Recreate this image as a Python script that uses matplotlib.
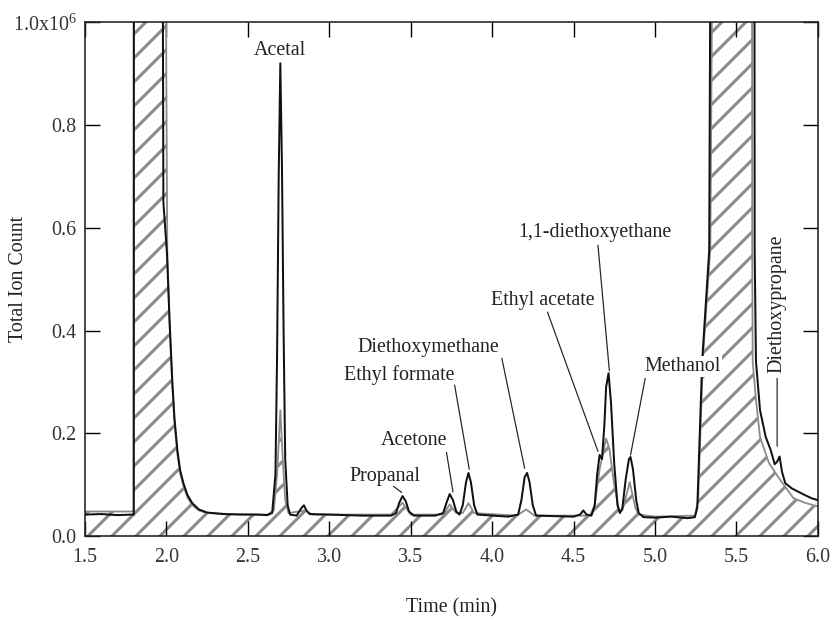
import matplotlib
matplotlib.use('Agg')
import matplotlib.pyplot as plt

plt.rcParams['font.family'] = ['Liberation Serif', 'DejaVu Serif']
plt.rcParams['mathtext.fontset'] = 'stix'
plt.rcParams['hatch.linewidth'] = 1.5
plt.rcParams['hatch.color'] = '#8a8a8a'

# black trace (time in min, intensity in 1e6 counts)
black_t = [1.50, 1.60, 1.70, 1.79, 1.800, 1.801, 1.975, 1.982, 2.004, 2.02, 2.037, 2.05,
           2.068, 2.085, 2.105, 2.13, 2.16, 2.20, 2.25, 2.35, 2.45, 2.55, 2.62, 2.65,
           2.67, 2.68, 2.69, 2.70, 2.71, 2.72, 2.73, 2.745, 2.76, 2.80, 2.83, 2.845,
           2.86, 2.88, 3.00, 3.20, 3.38, 3.41, 3.43, 3.45, 3.47, 3.49, 3.52, 3.65,
           3.70, 3.72, 3.74, 3.76, 3.78, 3.80, 3.82, 3.84, 3.855, 3.87, 3.89, 3.91,
           4.10, 4.16, 4.18, 4.20, 4.215, 4.23, 4.25, 4.27, 4.50, 4.54, 4.56, 4.58,
           4.61, 4.63, 4.645, 4.66, 4.675, 4.69, 4.70, 4.715, 4.73, 4.75, 4.77, 4.785,
           4.80, 4.82, 4.84, 4.85, 4.865, 4.885, 4.90, 4.93, 5.00, 5.10, 5.20, 5.245,
           5.26, 5.29, 5.333, 5.345, 5.61, 5.612, 5.62, 5.645, 5.68, 5.71, 5.735, 5.75,
           5.765, 5.78, 5.80, 5.84, 5.87, 5.92, 5.96, 6.00]
black_v = [0.042, 0.043, 0.041, 0.042, 0.042, 1.5, 1.5, 0.65, 0.55, 0.42, 0.30, 0.23,
           0.167, 0.128, 0.103, 0.080, 0.064, 0.052, 0.046, 0.043, 0.042, 0.042, 0.041, 0.045,
           0.12, 0.35, 0.70, 0.92, 0.72, 0.40, 0.15, 0.06, 0.042, 0.040, 0.055, 0.060,
           0.050, 0.043, 0.042, 0.040, 0.040, 0.045, 0.065, 0.078, 0.068, 0.048, 0.040, 0.040,
           0.045, 0.065, 0.082, 0.070, 0.048, 0.042, 0.060, 0.105, 0.123, 0.105, 0.060, 0.042,
           0.038, 0.042, 0.070, 0.115, 0.123, 0.105, 0.060, 0.040, 0.038, 0.042, 0.050, 0.042,
           0.040, 0.060, 0.120, 0.158, 0.150, 0.220, 0.290, 0.317, 0.260, 0.140, 0.060, 0.045,
           0.055, 0.110, 0.150, 0.154, 0.130, 0.070, 0.045, 0.037, 0.036, 0.038, 0.035, 0.037,
           0.056, 0.342, 0.556, 1.5, 1.5, 0.556, 0.340, 0.245, 0.193, 0.168, 0.140, 0.145,
           0.155, 0.125, 0.103, 0.093, 0.088, 0.080, 0.074, 0.070]

# grey trace
gray_t = [1.50, 1.79, 1.800, 1.801, 1.995, 2.000, 2.006, 2.02, 2.037, 2.05, 2.068, 2.085,
          2.105, 2.13, 2.16, 2.20, 2.25, 2.40, 2.62, 2.66, 2.68, 2.70, 2.715, 2.73,
          2.75, 2.85, 2.90, 3.38, 3.45, 3.50, 3.70, 3.74, 3.78, 3.82, 3.855, 3.89,
          4.15, 4.21, 4.26, 4.60, 4.63, 4.66, 4.70, 4.72, 4.75, 4.78, 4.80, 4.845,
          4.88, 4.90, 5.00, 5.245, 5.265, 5.295, 5.34, 5.36, 5.595, 5.597, 5.60, 5.62,
          5.645, 5.70, 5.77, 5.85, 5.92, 6.00]
gray_v = [0.048, 0.048, 0.050, 1.5, 1.5, 0.90, 0.556, 0.41, 0.29, 0.22, 0.16, 0.122,
          0.098, 0.075, 0.060, 0.050, 0.045, 0.043, 0.042, 0.050, 0.120, 0.245, 0.150, 0.070,
          0.045, 0.050, 0.042, 0.042, 0.065, 0.042, 0.042, 0.062, 0.045, 0.045, 0.064, 0.045,
          0.040, 0.052, 0.040, 0.040, 0.060, 0.130, 0.190, 0.170, 0.100, 0.048, 0.050, 0.105,
          0.055, 0.042, 0.038, 0.040, 0.070, 0.350, 0.560, 1.5, 1.5, 0.556, 0.340, 0.265,
          0.193, 0.142, 0.109, 0.074, 0.065, 0.058]

# peak labels: text, text position, leader start, leader end
labels = ['Propanal', 'Acetone', 'Ethyl formate', 'Diethoxymethane',
          'Ethyl acetate', '1,1-diethoxyethane', 'Methanol']
label_xy = [(3.34, 0.117), (3.52, 0.187), (3.43, 0.313), (3.61, 0.368),
            (4.31, 0.459), (4.63, 0.590), (5.17, 0.330)]
lead_from = [(3.395, 0.097), (3.72, 0.163), (3.77, 0.294), (4.06, 0.346),
             (4.34, 0.436), (4.65, 0.566), (4.94, 0.307)]
lead_to = [(3.445, 0.085), (3.76, 0.086), (3.86, 0.130), (4.20, 0.132),
           (4.65, 0.165), (4.72, 0.322), (4.85, 0.158)]

fig = plt.figure(figsize=(832 / 144, 617 / 144), dpi=144)
ax = fig.add_axes([0.102, 0.131, 0.881, 0.833])

ax.fill_between(gray_t, 0, gray_v, facecolor='none', edgecolor='#8a8a8a',
                hatch='//', linewidth=0, zorder=1)
ax.plot(gray_t, gray_v, color='#8a8a8a', lw=0.9, zorder=2)
ax.plot(black_t, black_v, color='#111111', lw=1.0, zorder=3)

ax.text(2.70, 0.945, 'Acetal', ha='center', va='center', fontsize=10, color='#222')
for name, (tx, ty), p0, p1 in zip(labels, label_xy, lead_from, lead_to):
    box = None
    if name == 'Methanol':
        box = dict(facecolor='white', edgecolor='none', pad=0.5)
    ax.text(tx, ty, name, ha='center', va='center', fontsize=10, color='#222',
            bbox=box, zorder=5)
    ax.annotate('', xy=p1, xytext=p0,
                arrowprops=dict(arrowstyle='-', lw=0.6, color='#222',
                                shrinkA=0, shrinkB=0), zorder=4)

ax.text(5.75, 0.453, 'Diethoxypropane', rotation=90, ha='center', va='center',
        fontsize=10, color='#222', bbox=dict(facecolor='white', edgecolor='none', pad=0.5),
        zorder=5)
ax.annotate('', xy=(5.75, 0.175), xytext=(5.75, 0.307),
            arrowprops=dict(arrowstyle='-', lw=0.6, color='#222', shrinkA=0, shrinkB=0),
            zorder=4)

ax.set_xlim(1.5, 6.0)
ax.set_ylim(0, 1.0)
ax.set_xticks([1.5, 2.0, 2.5, 3.0, 3.5, 4.0, 4.5, 5.0, 5.5, 6.0])
ax.set_xticklabels(['1.5', '2.0', '2.5', '3.0', '3.5', '4.0', '4.5', '5.0', '5.5', '6.0'])
ax.set_yticks([0, 0.2, 0.4, 0.6, 0.8, 1.0])
ax.set_yticklabels(['0.0', '0.2', '0.4', '0.6', '0.8', '1.0x10$^{\\mathregular{6}}$'])
ax.tick_params(direction='in', length=7.5, width=0.7, top=True, right=True,
               labelsize=10, labelcolor='#333')
ax.tick_params(axis='x', pad=6)
ax.tick_params(axis='y', pad=4)
for s in ax.spines.values():
    s.set_linewidth(0.8)
    s.set_color('#222')

ax.set_xlabel('Time (min)', fontsize=10, color='#222', va='center')
ax.set_ylabel('Total Ion Count', fontsize=10, color='#222', va='center')
ax.xaxis.set_label_coords(0.5, -0.14)
ax.yaxis.set_label_coords(-0.091, 0.5)

fig.savefig('out.png', dpi=144)
